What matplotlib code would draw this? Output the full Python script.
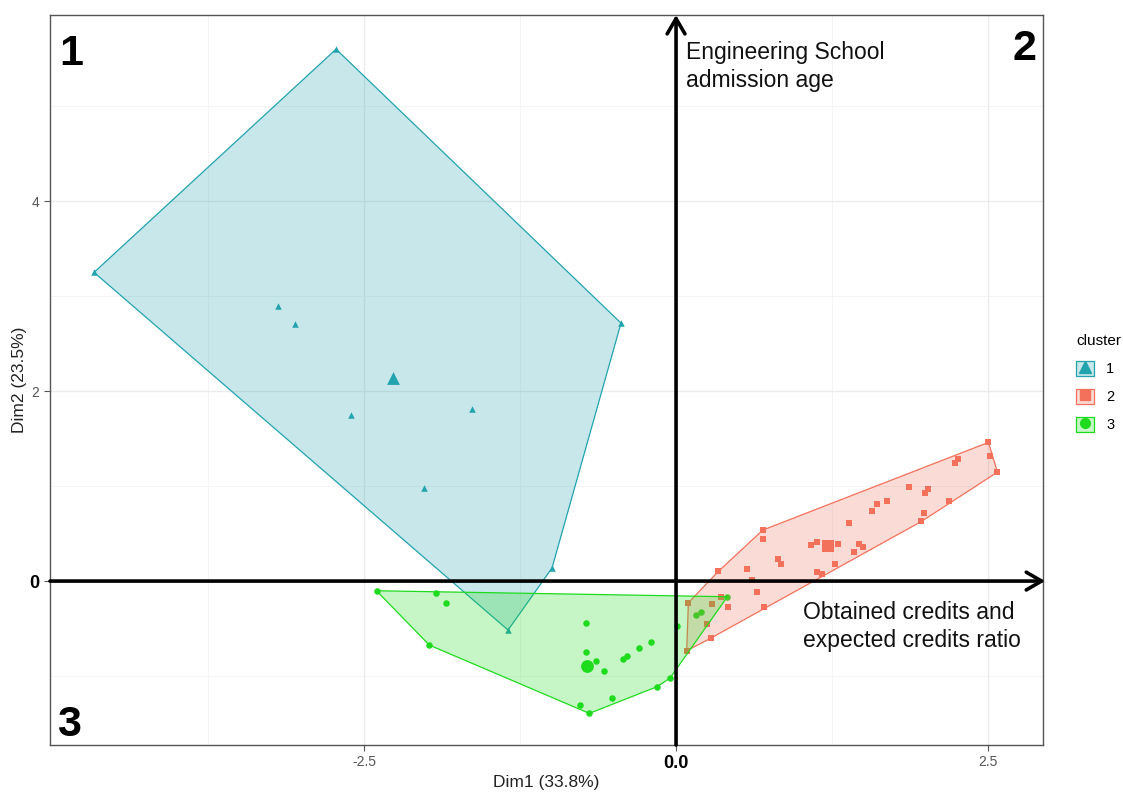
import numpy as np
import matplotlib
matplotlib.use('Agg')
import matplotlib.pyplot as plt
from matplotlib.patches import Polygon, Patch
from matplotlib.lines import Line2D
from matplotlib.legend_handler import HandlerTuple

plt.rcParams['font.family'] = ['Liberation Sans', 'DejaVu Sans']

# ---------------- data ----------------
c1_x = [-2.724, -4.663, -3.189, -3.053, -2.604, -1.635, -2.019, -0.441, -0.994, -1.346]
c1_y = [5.600, 3.250, 2.895, 2.705, 1.747, 1.810, 0.979, 2.716, 0.137, -0.516]

c2_x = [2.503, 2.516, 2.575, 2.262, 2.233, 1.864, 2.016, 1.995, 2.188, 1.693,
        1.613, 1.573, 1.990, 1.966, 1.389, 0.695, 0.700, 1.082, 1.127, 1.300,
        1.469, 1.496, 1.429, 0.817, 0.839, 1.274, 0.566, 0.339, 1.132, 1.167,
        0.606, 0.646, 0.708, 0.419, 0.360, 0.286, 0.099, 0.246, 0.280, 0.085]
c2_y = [1.460, 1.319, 1.147, 1.284, 1.239, 0.986, 0.965, 0.923, 0.842, 0.842,
        0.807, 0.740, 0.712, 0.628, 0.614, 0.537, 0.439, 0.382, 0.410, 0.386,
        0.386, 0.361, 0.308, 0.235, 0.179, 0.179, 0.123, 0.102, 0.095, 0.074,
        0.011, -0.116, -0.270, -0.270, -0.165, -0.242, -0.228, -0.456, -0.600, -0.734]

c3_x = [-2.400, -1.923, -1.846, -1.977, -0.721, -0.721, -0.644, -0.577, -0.422, -0.390,
        -0.296, -0.200, -0.048, -0.152, -0.510, -0.769, -0.695, 0.005, 0.158, 0.198, 0.411]
c3_y = [-0.102, -0.126, -0.232, -0.674, -0.446, -0.751, -0.842, -0.944, -0.817, -0.789,
        -0.702, -0.638, -1.021, -1.112, -1.235, -1.305, -1.393, -0.470, -0.358, -0.330, -0.165]

centroid_x = [-2.268, 1.220, -0.711]
centroid_y = [2.137, 0.365, -0.895]

cluster_labels = ['1', '2', '3']
cluster_colors = ['#22A3AE', '#F3705A', '#1EDB1E']
cluster_markers = ['^', 's', 'o']

xtick_vals = [-2.5, 0.0, 2.5]
xtick_labels = ['-2.5', '0.0', '2.5']
ytick_vals = [0, 2, 4]
ytick_labels = ['0', '2', '4']

x_title = 'Dim1 (33.8%)'
y_title = 'Dim2 (23.5%)'
axis1_text = 'Obtained credits and\nexpected credits ratio'
axis2_text = 'Engineering School\nadmission age'


def convex_hull(xs, ys):
    pts = sorted(set(zip(xs, ys)))
    if len(pts) < 3:
        return pts

    def cross(o, a, b):
        return (a[0] - o[0]) * (b[1] - o[1]) - (a[1] - o[1]) * (b[0] - o[0])

    lower = []
    for p in pts:
        while len(lower) >= 2 and cross(lower[-2], lower[-1], p) <= 0:
            lower.pop()
        lower.append(p)
    upper = []
    for p in reversed(pts):
        while len(upper) >= 2 and cross(upper[-2], upper[-1], p) <= 0:
            upper.pop()
        upper.append(p)
    return lower[:-1] + upper[:-1]


# ---------------- figure ----------------
fig = plt.figure(figsize=(11.23, 7.92), dpi=100)
ax = fig.add_axes([50 / 1123, 1 - 745 / 792, (1043 - 50) / 1123, (745 - 15) / 792])

xmin, xmax = -5.016, 2.94
ymin, ymax = -1.726, 5.96
ax.set_xlim(xmin, xmax)
ax.set_ylim(ymin, ymax)

# grid (theme_bw like)
ax.set_xticks(xtick_vals)
ax.set_yticks(ytick_vals)
ax.set_xticks([-3.75, -1.25, 1.25], minor=True)
ax.set_yticks([-1, 1, 3, 5], minor=True)
ax.grid(which='major', color='#EBEBEB', linewidth=1.0, zorder=0)
ax.grid(which='minor', color='#F2F2F2', linewidth=0.6, zorder=0)
ax.set_axisbelow(True)
ax.tick_params(which='minor', length=0)
ax.tick_params(which='major', length=4, color='#555555', width=0.8,
               labelsize=10, labelcolor='#555555')
for sp in ax.spines.values():
    sp.set_color('#555555')
    sp.set_linewidth(1.0)

ax.set_xticklabels(xtick_labels)
ax.set_yticklabels(ytick_labels)
xl = ax.get_xticklabels()
xl[1].set_fontweight('bold'); xl[1].set_color('black'); xl[1].set_fontsize(13)
yl = ax.get_yticklabels()
yl[0].set_fontweight('bold'); yl[0].set_color('black'); yl[0].set_fontsize(13)

ax.set_xlabel(x_title, fontsize=12.5, color='#222222', labelpad=2)
ax.set_ylabel(y_title, fontsize=12.5, color='#222222', labelpad=2)

xs_all = [c1_x, c2_x, c3_x]
ys_all = [c1_y, c2_y, c3_y]

# points
for i in range(3):
    ax.scatter(xs_all[i], ys_all[i], marker=cluster_markers[i], s=22,
               color=cluster_colors[i], linewidths=0, zorder=2)
    ax.scatter([centroid_x[i]], [centroid_y[i]], marker=cluster_markers[i], s=85,
               color=cluster_colors[i], linewidths=0, zorder=2)

# hulls
for i in range(3):
    hull = convex_hull(xs_all[i], ys_all[i])
    poly = Polygon(hull, closed=True, facecolor=matplotlib.colors.to_rgba(cluster_colors[i], 0.25),
                   edgecolor=cluster_colors[i], linewidth=0.9, zorder=3 + i)
    ax.add_patch(poly)

# axes arrows
arrow_kw = dict(arrowstyle='->,head_length=0.55,head_width=0.32', lw=2.6, color='black',
                shrinkA=0, shrinkB=0, mutation_scale=20)
ax.annotate('', xy=(0, ymax), xytext=(0, ymin), arrowprops=arrow_kw,
            annotation_clip=False, zorder=10)
ax.annotate('', xy=(2.957, 0), xytext=(xmin, 0), arrowprops=arrow_kw,
            annotation_clip=False, zorder=10)

# annotations
ax.text(0.08, 5.42, axis2_text, fontsize=16.5, ha='left', va='center',
        linespacing=1.25, color='#111111', zorder=11)
ax.text(1.018, -0.479, axis1_text, fontsize=16.5, ha='left', va='center',
        linespacing=1.25, color='#111111', zorder=11)
ax.text(-4.94, 5.55, '1', fontsize=31, fontweight='bold', ha='left', va='center', zorder=11)
ax.text(2.885, 5.60, '2', fontsize=31, fontweight='bold', ha='right', va='center', zorder=11)
ax.text(-4.96, -1.52, '3', fontsize=31, fontweight='bold', ha='left', va='center', zorder=11)

# legend
handles = []
for i in range(3):
    p = Patch(facecolor=matplotlib.colors.to_rgba(cluster_colors[i], 0.25),
              edgecolor=cluster_colors[i], linewidth=0.9)
    m = Line2D([], [], marker=cluster_markers[i], color=cluster_colors[i], ls='',
               markersize=8 if i == 0 else 7)
    handles.append((p, m))
leg = fig.legend(handles, cluster_labels, title='cluster', loc='upper left',
                 bbox_to_anchor=(1066 / 1123, 1 - 324 / 792), frameon=False,
                 handler_map={tuple: HandlerTuple(ndivide=1, pad=0)},
                 fontsize=10.5, title_fontsize=11, handlelength=1.25, handleheight=1.25,
                 labelspacing=0.85, handletextpad=0.8, borderpad=0.2)
leg._legend_box.align = 'left'

fig.savefig('out.png', dpi=100)
